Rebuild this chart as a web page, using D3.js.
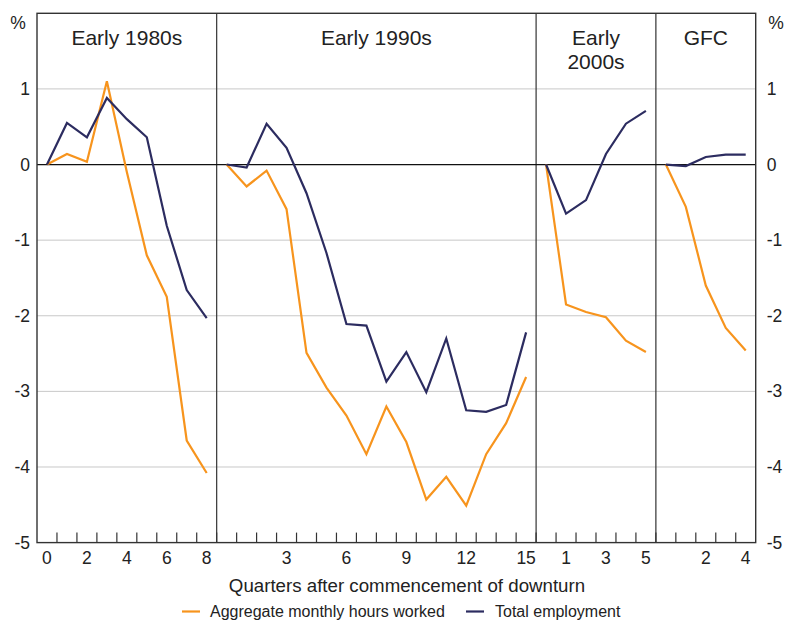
<!DOCTYPE html>
<html><head><meta charset="utf-8">
<script src="https://cdn.jsdelivr.net/npm/d3@7"></script>
<style>
body{margin:0;background:#fff;}
text{font-family:Arial,"Liberation Sans",sans-serif;fill:#222;}
</style></head>
<body><svg id="c" width="785" height="621"></svg>
<script>
// ---- data ----
const panels = ["Early 1980s", "Early 1990s", "Early 2000s", "GFC"];
const panelTitleLines = [["Early 1980s"], ["Early 1990s"], ["Early", "2000s"], ["GFC"]];
const quartersPerPanel = [9, 16, 6, 5];
const xTickLabels = [[0, 2, 4, 6, 8], [3, 6, 9, 12, 15], [1, 3, 5], [2, 4]];
const yTicks = [-5, -4, -3, -2, -1, 0, 1];

const hours1980s = [0, 0.14, 0.035, 1.10, -0.10, -1.20, -1.75, -3.65, -4.08];
const hours1990s = [0, -0.29, -0.08, -0.59, -2.49, -2.95, -3.32, -3.83, -3.20, -3.67, -4.43, -4.13, -4.51, -3.83, -3.42, -2.81];
const hours2000s = [0, -1.85, -1.95, -2.02, -2.33, -2.48];
const hoursGFC   = [0, -0.56, -1.60, -2.16, -2.46];

const emp1980s = [0, 0.55, 0.36, 0.88, 0.60, 0.36, -0.81, -1.66, -2.03];
const emp1990s = [0, -0.04, 0.54, 0.22, -0.38, -1.17, -2.11, -2.13, -2.87, -2.48, -3.01, -2.30, -3.25, -3.27, -3.18, -2.22];
const emp2000s = [0, -0.65, -0.47, 0.14, 0.54, 0.71];
const empGFC   = [0, -0.02, 0.10, 0.13, 0.13];

const seriesNames = ["Aggregate monthly hours worked", "Total employment"];
const colors = ["#F7941D", "#2C2C60"];
const hoursData = [hours1980s, hours1990s, hours2000s, hoursGFC];
const empData = [emp1980s, emp1990s, emp2000s, empGFC];

// ---- layout ----
const svg = d3.select("#c");
const L = 37, R = 755.7, T = 13.3, B = 542.6;
const FONT = "Arial, 'Liberation Sans', sans-serif";

const keys = [];
quartersPerPanel.forEach((n, p) => { for (let q = 0; q < n; q++) keys.push(p + "-" + q); });
const x = d3.scaleBand().domain(keys).range([L, R]).paddingInner(0).paddingOuter(0);
const y = d3.scaleLinear().domain([-5, 2]).range([B, T]);
const cx = (p, q) => x(p + "-" + q) + x.bandwidth() / 2;
const fmt = d => String(d); // hyphen-minus as in the reference

// gridlines
svg.append("g").selectAll("line").data(yTicks.filter(v => v !== 0 && v !== -5)).join("line")
  .attr("x1", L).attr("x2", R).attr("y1", d => y(d)).attr("y2", d => y(d))
  .attr("stroke", "#c8c8c8").attr("stroke-width", 1);

// panel dividers
const panelStarts = quartersPerPanel.map((n, p) => x(p + "-0"));
svg.append("g").selectAll("line").data(panelStarts.slice(1)).join("line")
  .attr("x1", d => d).attr("x2", d => d).attr("y1", T).attr("y2", B)
  .attr("stroke", "#333").attr("stroke-width", 1.2);

// zero line
svg.append("line").attr("x1", L).attr("x2", R).attr("y1", y(0)).attr("y2", y(0))
  .attr("stroke", "#111").attr("stroke-width", 1.2);

// frame
svg.append("rect").attr("x", L).attr("y", T).attr("width", R - L).attr("height", B - T)
  .attr("fill", "none").attr("stroke", "#333").attr("stroke-width", 1.4);

// bottom ticks at band boundaries
const boundaries = keys.slice(1).map(k => x(k));
svg.append("g").selectAll("line").data(boundaries).join("line")
  .attr("x1", d => d).attr("x2", d => d).attr("y1", B).attr("y2", B - 10)
  .attr("stroke", "#333").attr("stroke-width", 1.2);

// x tick labels
xTickLabels.forEach((labs, p) => {
  svg.append("g").selectAll("text").data(labs).join("text")
    .attr("x", d => cx(p, d)).attr("y", 564)
    .attr("text-anchor", "middle").attr("font-size", 17.5).text(fmt);
});

// y axes (labels only)
const yl = svg.append("g").attr("transform", `translate(${L},0)`)
  .call(d3.axisLeft(y).tickValues(yTicks).tickSize(0).tickPadding(7).tickFormat(fmt));
yl.select(".domain").remove();
yl.selectAll("text").attr("font-size", 17.5).style("font-family", FONT).attr("fill", "#222");
const yr = svg.append("g").attr("transform", `translate(${R},0)`)
  .call(d3.axisRight(y).tickValues(yTicks).tickSize(0).tickPadding(11).tickFormat(fmt));
yr.select(".domain").remove();
yr.selectAll("text").attr("font-size", 17.5).style("font-family", FONT).attr("fill", "#222");

svg.append("text").attr("x", 18).attr("y", 29).attr("text-anchor", "middle").attr("font-size", 17.5).text("%");
svg.append("text").attr("x", 776).attr("y", 29).attr("text-anchor", "middle").attr("font-size", 17.5).text("%");

// panel titles
panelTitleLines.forEach((lines, p) => {
  const start = panelStarts[p];
  const end = start + quartersPerPanel[p] * x.bandwidth();
  lines.forEach((t, i) => {
    svg.append("text").attr("x", (start + end) / 2).attr("y", 45 + i * 23.5)
      .attr("text-anchor", "middle").attr("font-size", 21).text(t);
  });
});

// lines
const lineGen = p => d3.line().x((d, q) => cx(p, q)).y(d => y(d));
[hoursData, empData].forEach((set, s) => {
  set.forEach((vals, p) => {
    svg.append("path").datum(vals).attr("d", lineGen(p))
      .attr("fill", "none").attr("stroke", colors[s]).attr("stroke-width", 2.2)
      .attr("stroke-linejoin", "miter");
  });
});

// axis title
svg.append("text").attr("x", 407).attr("y", 592).attr("text-anchor", "middle")
  .attr("font-size", 18.7).text("Quarters after commencement of downturn");

// legend
const leg = [{x: 182, tx: 210}, {x: 466, tx: 495}];
seriesNames.forEach((n, i) => {
  svg.append("line").attr("x1", leg[i].x).attr("x2", leg[i].x + 18)
    .attr("y1", 611.5).attr("y2", 611.5).attr("stroke", colors[i]).attr("stroke-width", 2.2);
  svg.append("text").attr("x", leg[i].tx).attr("y", 617).attr("font-size", 16).text(n);
});
</script></body></html>
